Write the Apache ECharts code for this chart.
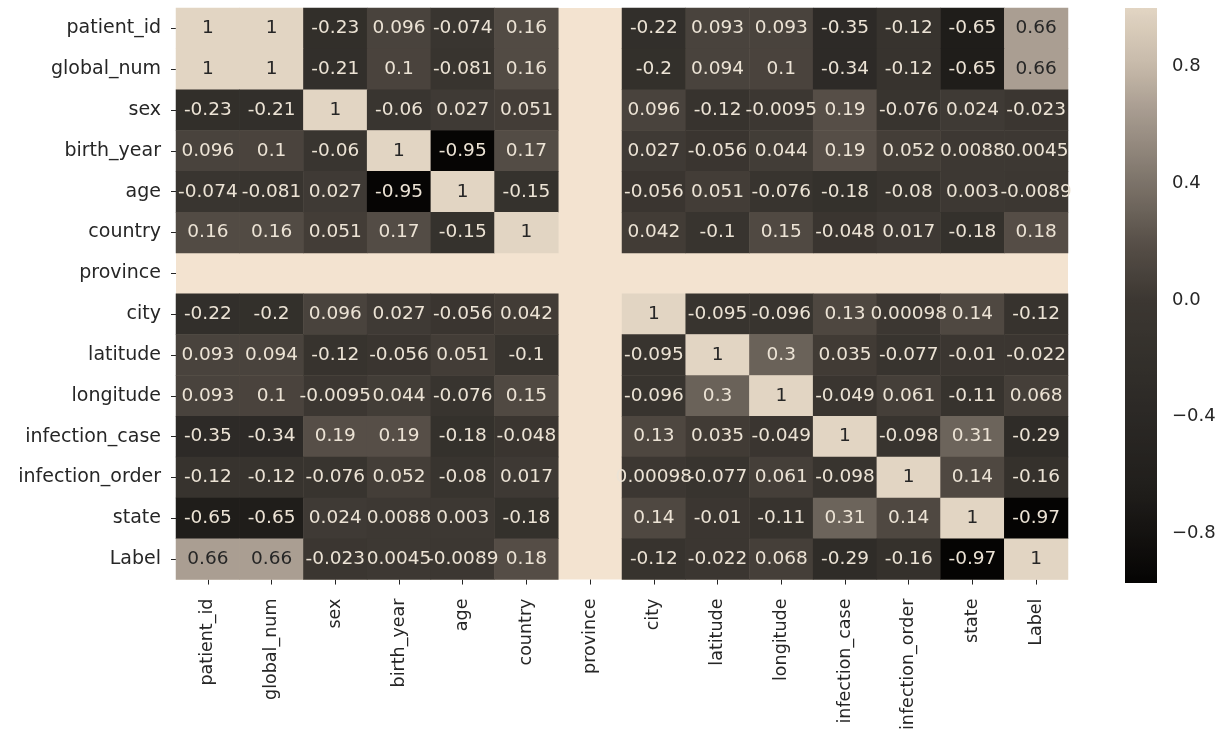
<!DOCTYPE html>
<html>
<head>
<meta charset="utf-8">
<script src="https://cdn.jsdelivr.net/npm/echarts@6/dist/echarts.min.js"></script>
<style>
  html, body { margin: 0; padding: 0; background: #ffffff; }
  #chart { width: 1223px; height: 733px; }
</style>
</head>
<body>
<div id="chart"></div>
<script>
// Correlation matrix of the patient feature table
const features = ['patient_id', 'global_num', 'sex', 'birth_year', 'age', 'country', 'province',
  'city', 'latitude', 'longitude', 'infection_case', 'infection_order', 'state', 'Label'];

// One array per row; null = undefined correlation (constant column)
const patient_id      = [1, 1, -0.23, 0.096, -0.074, 0.16, null, -0.22, 0.093, 0.093, -0.35, -0.12, -0.65, 0.66];
const global_num      = [1, 1, -0.21, 0.1, -0.081, 0.16, null, -0.2, 0.094, 0.1, -0.34, -0.12, -0.65, 0.66];
const sex             = [-0.23, -0.21, 1, -0.06, 0.027, 0.051, null, 0.096, -0.12, -0.0095, 0.19, -0.076, 0.024, -0.023];
const birth_year      = [0.096, 0.1, -0.06, 1, -0.95, 0.17, null, 0.027, -0.056, 0.044, 0.19, 0.052, 0.0088, 0.0045];
const age             = [-0.074, -0.081, 0.027, -0.95, 1, -0.15, null, -0.056, 0.051, -0.076, -0.18, -0.08, 0.003, -0.0089];
const country         = [0.16, 0.16, 0.051, 0.17, -0.15, 1, null, 0.042, -0.1, 0.15, -0.048, 0.017, -0.18, 0.18];
const province        = [null, null, null, null, null, null, null, null, null, null, null, null, null, null];
const city            = [-0.22, -0.2, 0.096, 0.027, -0.056, 0.042, null, 1, -0.095, -0.096, 0.13, 0.00098, 0.14, -0.12];
const latitude        = [0.093, 0.094, -0.12, -0.056, 0.051, -0.1, null, -0.095, 1, 0.3, 0.035, -0.077, -0.01, -0.022];
const longitude       = [0.093, 0.1, -0.0095, 0.044, -0.076, 0.15, null, -0.096, 0.3, 1, -0.049, 0.061, -0.11, 0.068];
const infection_case  = [-0.35, -0.34, 0.19, 0.19, -0.18, -0.048, null, 0.13, 0.035, -0.049, 1, -0.098, 0.31, -0.29];
const infection_order = [-0.12, -0.12, -0.076, 0.052, -0.08, 0.017, null, 0.00098, -0.077, 0.061, -0.098, 1, 0.14, -0.16];
const state           = [-0.65, -0.65, 0.024, 0.0088, 0.003, -0.18, null, 0.14, -0.01, -0.11, 0.31, 0.14, 1, -0.97];
const Label           = [0.66, 0.66, -0.023, 0.0045, -0.0089, 0.18, null, -0.12, -0.022, 0.068, -0.29, -0.16, -0.97, 1];

const rows = [patient_id, global_num, sex, birth_year, age, country, province,
  city, latitude, longitude, infection_case, infection_order, state, Label];

// Colour scale range and colour-bar ticks
const vMin = -0.97;
const vMax = 1.0;
const colorbarTicks = [-0.8, -0.4, 0.0, 0.4, 0.8];

// Dark-to-sand colour map, defined by anchor colours along the value range
const cmapAnchors = [
  [-0.97, '#050403'], [-0.8, '#141210'], [-0.65, '#201e1b'], [-0.4, '#2b2825'],
  [-0.2, '#33302b'], [0.0, '#3c3732'], [0.19, '#564e47'], [0.3, '#6a6259'],
  [0.66, '#aa9e92'], [0.8, '#c6b9a9'], [1.0, '#e2d5c3']
];
function hexToRgb(h) {
  return [parseInt(h.slice(1, 3), 16), parseInt(h.slice(3, 5), 16), parseInt(h.slice(5, 7), 16)];
}
function rgbToHex(c) {
  return '#' + c.map(v => Math.round(v).toString(16).padStart(2, '0')).join('');
}
function cmap(v) {
  if (v <= cmapAnchors[0][0]) return cmapAnchors[0][1];
  for (let i = 1; i < cmapAnchors.length; i++) {
    const [v1, c1] = cmapAnchors[i];
    if (v <= v1) {
      const [v0, c0] = cmapAnchors[i - 1];
      const t = (v - v0) / (v1 - v0);
      const a = hexToRgb(c0), b = hexToRgb(c1);
      return rgbToHex(a.map((x, k) => x + (b[k] - x) * t));
    }
  }
  return cmapAnchors[cmapAnchors.length - 1][1];
}
const nSteps = 120;
const rampColors = [];
for (let i = 0; i <= nSteps; i++) rampColors.push(cmap(vMin + (vMax - vMin) * i / nSteps));

const FONT = 'DejaVu Sans';
const TEXT_DARK = '#262626';
const TEXT_LIGHT = '#ece3d5';

// Heatmap cells; undefined correlations are left empty so the panel background shows
const cells = [];
rows.forEach((row, yi) => {
  row.forEach((v, xi) => {
    if (v === null) return;
    cells.push({
      value: [xi, yi, v],
      label: { color: v >= 0.5 ? TEXT_DARK : TEXT_LIGHT }
    });
  });
});

const chart = echarts.init(document.getElementById('chart'), null, { renderer: 'canvas' });

chart.setOption({
  animation: false,
  backgroundColor: '#ffffff',
  grid: [
    { left: 176, top: 8, width: 892, height: 575, show: true, backgroundColor: '#f3e3d0', borderWidth: 0 },
    { left: 1125, top: 8, width: 32, height: 575, show: false }
  ],
  xAxis: [
    {
      gridIndex: 0, type: 'category', data: features, position: 'bottom',
      axisLine: { show: false },
      axisTick: { show: true, alignWithLabel: true, length: 5, lineStyle: { color: TEXT_DARK, width: 1 } },
      axisLabel: { rotate: 90, margin: 19, color: TEXT_DARK, fontFamily: FONT, fontSize: 17.5 },
      splitLine: { show: false }
    },
    { gridIndex: 1, type: 'value', min: 0, max: 1, show: false }
  ],
  yAxis: [
    {
      gridIndex: 0, type: 'category', data: features, inverse: true,
      axisLine: { show: false },
      axisTick: { show: true, alignWithLabel: true, length: 5, lineStyle: { color: TEXT_DARK, width: 1 } },
      axisLabel: { margin: 15, color: TEXT_DARK, fontFamily: FONT, fontSize: 19 },
      splitLine: { show: false }
    },
    {
      gridIndex: 1, type: 'value', min: vMin, max: vMax, position: 'right',
      axisLine: { show: false },
      axisTick: { show: true, length: 5, customValues: colorbarTicks, lineStyle: { color: TEXT_DARK, width: 1 } },
      axisLabel: {
        show: true, margin: 15, customValues: colorbarTicks, color: TEXT_DARK, fontFamily: FONT, fontSize: 18,
        formatter: v => Number(v).toFixed(1).replace('-', '\u2212')
      },
      splitLine: { show: false }
    }
  ],
  visualMap: {
    show: false, type: 'continuous', seriesIndex: 0, dimension: 2,
    min: vMin, max: vMax, inRange: { color: rampColors }
  },
  series: [
    {
      type: 'heatmap', xAxisIndex: 0, yAxisIndex: 0, data: cells,
      label: {
        show: true, fontFamily: FONT, fontSize: 18.5,
        formatter: p => String(p.value[2])
      },
      itemStyle: { borderWidth: 0 },
      emphasis: { disabled: true }
    },
    {
      // colour bar: a single rectangle spanning the colour scale, filled with the ramp
      type: 'custom', xAxisIndex: 1, yAxisIndex: 1, data: [[0, vMax]],
      silent: true,
      renderItem: function (params, api) {
        const p0 = api.coord([0, vMax]);
        const p1 = api.coord([1, vMin]);
        const stops = rampColors.map((c, i) => ({ offset: 1 - i / nSteps, color: c }));
        stops.reverse();
        return {
          type: 'rect',
          shape: { x: p0[0], y: p0[1], width: p1[0] - p0[0], height: p1[1] - p0[1] },
          style: { fill: new echarts.graphic.LinearGradient(0, 0, 0, 1, stops) }
        };
      }
    }
  ]
});
</script>
</body>
</html>
